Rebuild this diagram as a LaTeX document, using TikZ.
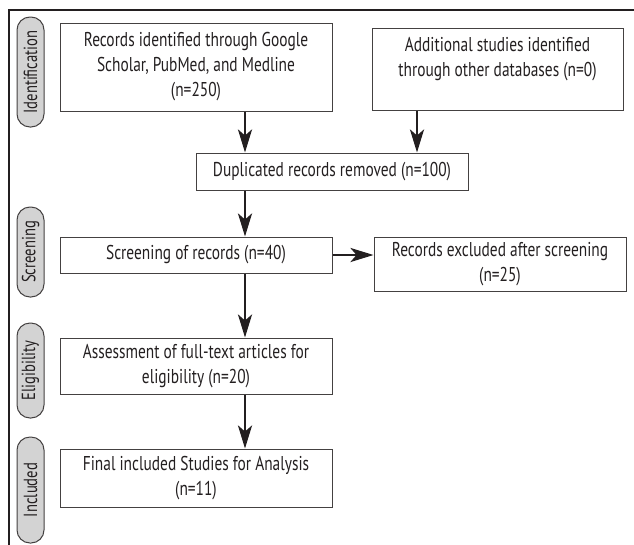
\documentclass[tikz,border=0pt]{standalone}
\usepackage{fontspec}
\setmainfont{PT Sans}[FakeStretch=0.77]
\usetikzlibrary{arrows.meta,calc}
\definecolor{ink}{HTML}{231F20}
\definecolor{pill}{HTML}{D3D3D3}
\begin{document}
\begin{tikzpicture}[x=1pt,y=-1pt,
  box/.style={draw=ink!85, line width=1pt, align=center, text=ink, font=\fontsize{20}{25}\selectfont, inner sep=0pt},
  pillbox/.style={draw=ink!85, fill=pill, line width=1pt, rounded corners=13pt, rotate=90, minimum height=27pt, inner sep=0pt, text=ink, font=\fontsize{19}{20}\selectfont},
  arr/.style={draw=ink, line width=2.8pt, -{Stealth[length=23pt,width=14pt,inset=6pt]}},
  frame/.style={draw=ink, line width=2.8pt}]
\useasboundingbox (0,0) rectangle (634,544);
% frame
\coordinate (ftl) at (9,10);
\coordinate (fbl) at (9,548);
\coordinate (ftr) at (640,10);
\draw[frame] (fbl) -- (ftl) -- (ftr);
% pills
\node[pillbox, minimum width=110pt] (p1) at (30.5,72) {Identification};
\node[pillbox, minimum width=90pt] (p2) at (30.5,252) {Screening};
\node[pillbox, minimum width=95pt] (p3) at (30.5,370.5) {Eligibility};
\node[pillbox, minimum width=106pt] (p4) at (30.5,490) {Included};
% boxes
\node[box, minimum width=272pt, minimum height=88pt] (b1) at (196,67) {Records identified through Google\\Scholar, PubMed, and Medline\\(n=250)};
\node[box, minimum width=251pt, minimum height=82pt] (b2) at (497.5,69) {Additional studies identified\\through other databases (n=0)\\~};
\node[box, minimum width=272pt, minimum height=37pt] (dup) at (332,171.5) {Duplicated records removed (n=100)};
\node[box, minimum width=272pt, minimum height=36pt] (scr) at (196,255) {Screening of records (n=40)};
\node[box, minimum width=252pt, minimum height=54pt] (exc) at (500,264) {Records excluded after screening\\(n=25)};
\node[box, minimum width=272pt, minimum height=56pt] (ass) at (196,366) {Assessment of full-text articles for\\eligibility (n=20)};
\node[box, minimum width=272pt, minimum height=58pt] (fin) at (196,478) {Final included Studies for Analysis\\(n=11)};
% arrows
\coordinate (ax) at (245,0);
\coordinate (bx) at (417,0);
\draw[arr] (b1.south -| ax) -- (dup.north -| ax);
\draw[arr] (b2.south -| bx) -- (dup.north -| bx);
\draw[arr] (dup.south -| ax) -- (scr.north -| ax);
\draw[arr] (scr.east) -- (exc.west |- scr.east);
\draw[arr] (scr.south -| ax) -- (ass.north -| ax);
\draw[arr] (ass.south -| ax) -- (fin.north -| ax);
\end{tikzpicture}
\end{document}
